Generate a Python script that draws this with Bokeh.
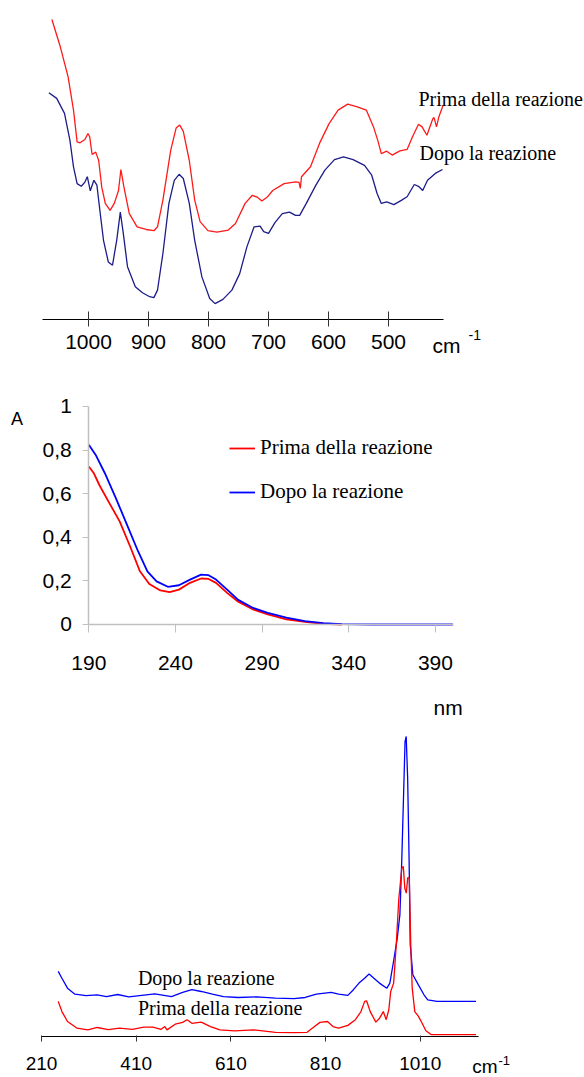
from bokeh.plotting import figure
from bokeh.layouts import column
from bokeh.models import Range1d, FixedTicker, Label, Legend, LegendItem, LinearAxis
from bokeh.embed import file_html
from bokeh.resources import INLINE

# ---------------- IR spectrum (top) ----------------
ir_ticks = [1000, 900, 800, 700, 600, 500]
ir_prima_x = [1061, 1047, 1034, 1025, 1019, 1014, 1006, 1001, 998, 994, 988, 983, 978, 972, 964,
              957, 950, 946, 941, 932, 919, 904, 891, 885, 876, 863, 854, 848, 842, 832,
              823, 814, 801, 786, 767, 755, 739, 727, 719, 711, 702, 693, 674, 655, 649,
              647, 645, 630, 615, 599, 584, 568, 552, 537, 525, 518, 512, 503, 494, 481,
              469, 460, 450, 444, 436, 426, 424, 420, 416, 409]
ir_prima_y = [100, 90.9, 80.9, 69.8, 59.2, 58.9, 60, 62, 60.9, 55, 55.8, 53, 44.2, 38.7, 36.4,
              38.7, 43, 50, 44.2, 35.3, 30.9, 30, 29.6, 30.9, 39.8, 56.4, 63.8, 64.8, 62.7, 53,
              39.8, 32.6, 29.6, 29.1, 29.8, 32, 38.7, 41.4, 40.8, 39.5, 40.8, 43, 45.3, 45.9, 45.7,
              43.7, 47.6, 50.9, 58.7, 65.3, 69.8, 71.8, 70.9, 69.8, 64.2, 59.8, 55.3, 56.1, 54.8, 56.2,
              56.7, 60.9, 65.1, 64.2, 61.4, 67, 67.3, 64.2, 67.6, 71.4]
ir_dopo_x = [1066, 1053, 1040, 1031, 1025, 1019, 1012, 1006, 1002, 997, 991, 986, 981, 975, 967,
             960, 953, 947, 942, 935, 922, 910, 898, 891, 885, 876, 866, 857, 849, 842,
             832, 823, 811, 798, 789, 776, 761, 748, 736, 724, 714, 708, 700, 689, 677,
             665, 655, 648, 637, 621, 606, 590, 575, 559, 540, 528, 519, 512, 503, 491,
             478, 469, 457, 450, 443, 435, 422, 410]
ir_dopo_y = [75.6, 73.7, 68.7, 59.8, 50.9, 45.3, 44.4, 45.8, 47.6, 42.9, 46.4, 44.8, 36.3, 26.4, 19.2,
             18.1, 26.4, 35.8, 28.7, 17.6, 10.9, 8.9, 7.6, 7.3, 9.8, 22, 38.7, 46.4, 48.4, 47,
             38.7, 26.4, 14.2, 7, 5.3, 6.7, 9.8, 15.3, 24.2, 30.9, 31.1, 29.3, 28.7, 32.4, 35.3,
             35.8, 34.7, 34.7, 38.7, 44.8, 49.8, 53.3, 54.2, 53.3, 51.4, 48.1, 42, 38.7, 39.2, 38.3,
             39.8, 40.9, 45, 44.4, 43, 46.4, 48.7, 50]

# ---------------- UV spectrum (middle) ----------------
uv_xticks = [190, 240, 290, 340, 390]
uv_yticks = [0, 0.2, 0.4, 0.6, 0.8, 1]
uv_ylabels = ["0", "0,2", "0,4", "0,6", "0,8", "1"]
uv_prima_x = [190, 192.8, 196, 201.3, 207.8, 214.2, 219.5, 224.9, 231.3, 236.6, 242, 248.4, 254.8,
              259.1, 263.4, 269.8, 276.2, 284.8, 293.3, 304, 314.7, 325.4, 336.1]
uv_prima_y = [0.725, 0.695, 0.641, 0.565, 0.473, 0.351, 0.244, 0.186, 0.156, 0.148, 0.160, 0.191, 0.211,
              0.209, 0.191, 0.145, 0.104, 0.069, 0.046, 0.024, 0.012, 0.003, 0]
uv_dopo_x = [190, 193.9, 199.2, 205.6, 212, 218.4, 223.8, 229.1, 235.6, 242, 248.4, 254.8, 259.1,
             263.4, 269.8, 276.2, 284.8, 293.3, 304, 314.7, 325.4, 336, 353, 400]
uv_dopo_y = [0.824, 0.779, 0.695, 0.580, 0.458, 0.336, 0.244, 0.198, 0.173, 0.180, 0.206, 0.229, 0.226,
             0.206, 0.160, 0.113, 0.076, 0.053, 0.031, 0.015, 0.006, 0.002, 0, 0]

# ---------------- Raman spectrum (bottom) ----------------
ra_ticks = [210, 410, 610, 810, 1010]
ra_dopo_x = [245.3, 253.1, 264.9, 280.6, 304.1, 327.6, 347.3, 370.8, 394.3, 421.8, 449.2, 468.8, 484.5,
             508, 527.6, 547.3, 570.8, 594.3, 625.7, 664.9, 704.1, 743.3, 766.9, 790.4, 821.8, 837.5,
             857.1, 868.8, 880.6, 892.4, 901.8, 912, 923.7, 939.4, 945.7, 953.5, 961.4, 966.9, 970.8,
             974.7, 977.8, 980.2, 983.3, 986.4, 988.8, 994.3, 1006, 1017.8, 1025.7, 1045.3, 1127.6]
ra_dopo_y = [21.7, 19.4, 16.1, 14.1, 13.6, 13.9, 13.3, 14, 13.2, 13.7, 14.2, 13.7, 13.3,
             14.7, 15.6, 15, 14.1, 13.3, 13, 13.2, 12.8, 12.6, 13, 14.1, 14.7, 14.1,
             13.7, 15.6, 17.8, 19.4, 20.8, 19.4, 17.8, 16.1, 17.8, 25, 32.8, 40.6, 58.3,
             80.6, 98.3, 100, 86.1, 58.3, 30.6, 20.6, 17.2, 13.9, 12.2, 11.7, 11.7]
ra_prima_x = [245.3, 253.1, 264.9, 284.5, 308, 327.6, 351.2, 374.7, 402.2, 425.7, 445.3, 462.5, 470.4,
              475.1, 492.4, 508, 517.5, 527.6, 547.3, 566.9, 586.7, 618, 657.3, 704.3, 743.3, 770.8,
              786.5, 798.2, 813.9, 825.7, 837.5, 857.1, 872.9, 884.7, 892.5, 896.5, 904.3, 916.1, 924,
              931.8, 938, 943.5, 947.5, 953.7, 959.2, 964.7, 971, 974.1, 977.3, 980.4, 983.5, 986.7,
              989.8, 992.9, 998.4, 1006.1, 1013.9, 1021.8, 1033.5, 1127.6]
ra_prima_y = [11.7, 8.3, 5, 2.8, 2.2, 3, 2.3, 2.8, 2.4, 3.1, 3.1, 2.4, 3.3,
              2.2, 4.1, 4.7, 5.6, 4.4, 4.8, 3.3, 2.2, 1.9, 2.2, 1.4, 1.3, 1.4,
              3.3, 4.7, 5, 3.3, 2.8, 3.7, 5.6, 8.3, 11.7, 11.9, 8.3, 4.8, 6.1,
              8.3, 5.6, 8.9, 15, 17.8, 30.6, 46.1, 56.1, 56.7, 49.4, 47.8, 53, 52.8,
              30.6, 16.1, 8.3, 6.7, 4.4, 1.9, 0.6, 0.6]

label_prima = "Prima della reazione"
label_dopo = "Dopo la reazione"

SANS = "Liberation Sans"
SERIF = "Liberation Serif"
W = 584


def base_fig(height, xr, yr):
    p = figure(width=W, height=height, x_range=xr, y_range=yr,
               x_axis_type=None, y_axis_type=None,
               output_backend="svg", toolbar_location=None,
               min_border=0, min_border_left=0, min_border_right=0,
               min_border_top=0, min_border_bottom=0)
    p.outline_line_color = None
    p.xgrid.visible = False
    p.ygrid.visible = False
    p.background_fill_color = "white"
    p.border_fill_color = "white"
    return p


def lbl(p, x, y, text, size, font, align="left", baseline="middle"):
    p.add_layout(Label(x=x, y=y, text=text, text_font=font, text_font_size=size,
                       text_align=align, text_baseline=baseline, text_color="black"))


# ===== Figure 1: IR =====
p1 = base_fig(370, Range1d(1146.67, 173.33), Range1d(-17, 106.33))
p1.line(ir_prima_x, ir_prima_y, color="#ff1a1a", line_width=1.3)
p1.line(ir_dopo_x, ir_dopo_y, color="#1c1c8a", line_width=1.3)
ax1 = LinearAxis(ticker=FixedTicker(ticks=ir_ticks), bounds=(408, 1077), fixed_location=0,
                 major_tick_in=8, major_tick_out=7, minor_tick_line_color=None,
                 axis_line_color="black", major_tick_line_color="#333333",
                 major_label_standoff=9, major_label_text_font=SANS,
                 major_label_text_font_size="21px", major_label_text_color="black")
p1.add_layout(ax1, "below")
lbl(p1, 450, 73.4, label_prima, "20px", SERIF)
lbl(p1, 448.3, 55.5, label_dopo, "20px", SERIF)
lbl(p1, 426.7, -8.67, "cm", "21px", SANS)
lbl(p1, 366.7, -5.33, "-1", "14px", SANS)

# ===== Figure 2: UV =====
p2 = base_fig(350, Range1d(139.05, 476.0), Range1d(-0.4404, 1.1651))
r_p = p2.line(uv_prima_x, uv_prima_y, color="#ff0000", line_width=1.8)
r_d = p2.line(uv_dopo_x, uv_dopo_y, color="#0000ff", line_width=1.8)
ax2x = LinearAxis(ticker=FixedTicker(ticks=uv_xticks), bounds=(190, 400.6), fixed_location=0,
                  major_tick_in=0, major_tick_out=8,
                  minor_tick_line_color=None, axis_line_color="#c0c0c0", major_tick_line_color="#c0c0c0",
                  axis_line_width=1.5, major_label_standoff=24, major_label_text_font=SANS,
                  major_label_text_font_size="21px", major_label_text_color="black")
ax2y = LinearAxis(ticker=FixedTicker(ticks=uv_yticks), bounds=(0, 1), fixed_location=190,
                  major_tick_in=0, major_tick_out=6,
                  minor_tick_line_color=None, axis_line_color="#c0c0c0", major_tick_line_color="#c0c0c0",
                  axis_line_width=1.5, major_label_standoff=11, major_label_text_font=SANS,
                  major_label_text_font_size="21px", major_label_text_color="black",
                  major_label_overrides={t: s for t, s in zip(uv_yticks, uv_ylabels)})
p2.add_layout(ax2x, "below")
p2.add_layout(ax2y, "left")
legend = Legend(items=[LegendItem(label=label_prima, renderers=[r_p]),
                       LegendItem(label=label_dopo, renderers=[r_d])],
                location=(229, 216), glyph_width=26, glyph_height=24, label_height=24,
                label_standoff=5, spacing=19, padding=0, margin=0,
                border_line_color=None, background_fill_alpha=0,
                label_text_font=SERIF, label_text_font_size="21px", label_text_color="black")
p2.add_layout(legend)
lbl(p2, 148.6, 0.943, "A", "18px", SANS, align="center")
lbl(p2, 388.9, -0.381, "nm", "21px", SANS)

# ===== Figure 3: Raman =====
p3 = base_fig(357, Range1d(123.4, 1356.8), Range1d(-13.67, 105.33))
p3.line(ra_dopo_x, ra_dopo_y, color="#0000ff", line_width=1.3)
p3.line(ra_prima_x, ra_prima_y, color="#ff0000", line_width=1.3)
ax3 = LinearAxis(ticker=FixedTicker(ticks=ra_ticks), bounds=(210, 1133), fixed_location=0,
                 major_tick_in=1, major_tick_out=5, minor_tick_line_color=None,
                 axis_line_color="black", major_tick_line_color="#333333",
                 major_label_standoff=16, major_label_text_font=SANS,
                 major_label_text_font_size="19px", major_label_text_color="black")
p3.add_layout(ax3, "below")
lbl(p3, 413.6, 19.43, label_dopo, "20px", SERIF)
lbl(p3, 413.6, 9.43, "Prima  della reazione", "20px", SERIF)
lbl(p3, 1119.6, -10.0, "cm", "19px", SANS)
lbl(p3, 1175.2, -8.0, "-1", "13px", SANS)

layout = column(p1, p2, p3, spacing=0)
open("out.html", "w").write(file_html(layout, INLINE))
